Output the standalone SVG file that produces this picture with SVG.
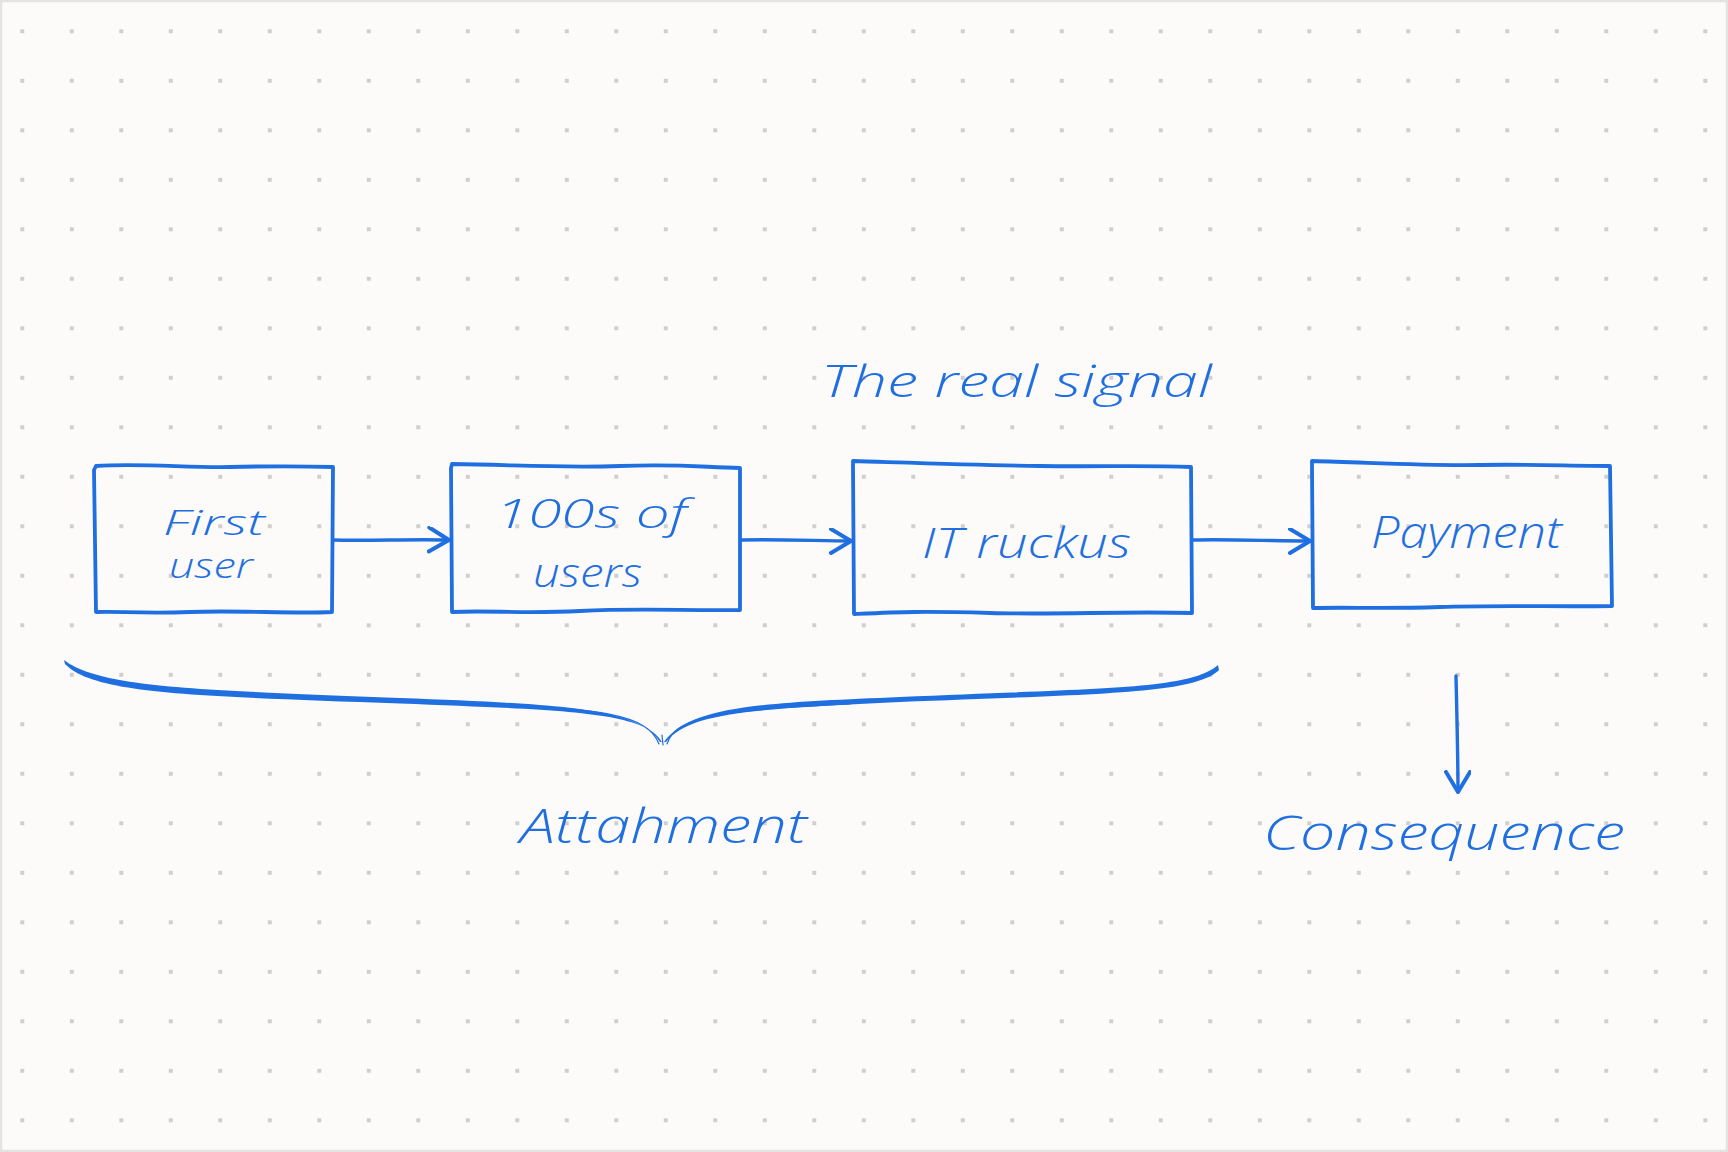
<svg xmlns="http://www.w3.org/2000/svg" width="1728" height="1152" viewBox="0 0 1728 1152">
  <defs>
    <pattern id="dots" patternUnits="userSpaceOnUse" x="20.3" y="29.3" width="49.5" height="49.5">
      <rect x="0" y="0" width="4" height="4" fill="#d0cfcd"/>
    </pattern>
    <marker id="arrow" markerUnits="userSpaceOnUse" markerWidth="30" markerHeight="30" refX="22" refY="13" orient="auto">
      <path d="M2,1 L22,13 L2,25" fill="none" stroke="#1f6fe0" stroke-width="4" stroke-linecap="round" stroke-linejoin="round"/>
    </marker>
    <style>
      .box { fill: none; stroke: #1f6fe0; stroke-width: 3.8; stroke-linecap: round; stroke-linejoin: round; }
      .conn { fill: none; stroke: #1f6fe0; stroke-width: 3.4; stroke-linecap: round; }
      .hand { fill: #1f6fe0; font-family: "Open Sans", "Liberation Sans", "DejaVu Sans", sans-serif; font-style: italic; font-weight: 300; }
      .brace { fill: #1f6fe0; stroke: none; }
      .thin { fill: none; stroke: #1f6fe0; stroke-width: 1.2; stroke-linecap: round; }
    </style>
  </defs>

  <rect x="0" y="0" width="1728" height="1152" fill="#fcfbfa"/>
  <rect x="0" y="0" width="1728" height="1152" fill="url(#dots)"/>
  <rect x="1" y="1" width="1726" height="1150" fill="none" stroke="#e4e3e1" stroke-width="2.5"/>

  <g id="node-first-user">
    <path class="box" d="M96,466 C140,463 190,468 230,467 S300,466 333,467 L332,612 C290,614 240,610 190,612 S120,611 96,612 L94,470 Z"/>
    <text class="hand" font-size="35" x="163" y="535" textLength="102" lengthAdjust="spacingAndGlyphs">First</text>
    <text class="hand" font-size="35" x="169" y="578" textLength="84" lengthAdjust="spacingAndGlyphs">user</text>
  </g>

  <g id="node-100s-of-users">
    <path class="box" d="M452,464 C520,465 560,468 620,466 S700,467 740,468 L740,610 C690,611 640,608 580,611 S490,610 452,612 L451,468 Z"/>
    <text class="hand" font-size="40" x="495" y="528" textLength="192" lengthAdjust="spacingAndGlyphs">100s of</text>
    <text class="hand" font-size="40" x="533" y="587" textLength="109" lengthAdjust="spacingAndGlyphs">users</text>
  </g>

  <g id="node-it-ruckus">
    <path class="box" d="M853,461 C920,463 980,465 1040,466 S1140,465 1191,467 L1192,613 C1120,611 1060,615 990,613 S900,612 854,614 L853,465 Z"/>
    <text class="hand" font-size="42" x="922" y="558" textLength="209" lengthAdjust="spacingAndGlyphs">IT ruckus</text>
  </g>

  <g id="node-payment">
    <path class="box" d="M1312,461 C1380,463 1430,466 1480,465 S1570,466 1610,466 L1612,606 C1560,607 1500,605 1440,607 S1350,607 1313,608 L1312,466 Z"/>
    <text class="hand" font-size="44" x="1371" y="548" textLength="191" lengthAdjust="spacingAndGlyphs">Payment</text>
  </g>

  <g id="label-real-signal">
    <text class="hand" font-size="44" x="821" y="397" textLength="391" lengthAdjust="spacingAndGlyphs">The real signal</text>
  </g>

  <g id="label-attahment">
    <text class="hand" font-size="48" x="520" y="843" textLength="287" lengthAdjust="spacingAndGlyphs">Attahment</text>
  </g>

  <g id="label-consequence">
    <text class="hand" font-size="48" x="1263" y="850" textLength="362" lengthAdjust="spacingAndGlyphs">Consequence</text>
  </g>

  <g id="brace">
    <path class="brace" d="M64,660 C100,688 200,690 400,698 C560,704 640,708 660,742 L662,742 C645,711 560,710 400,703.5 C200,696 95,695 65,664 Z"/>
    <path class="brace" d="M1218,665 C1190,690 1100,688 900,697 C760,703 690,706 664,742 L666,742 C690,711 760,709 900,702 C1100,694 1195,694 1219,670 Z"/>
    <path class="thin" d="M470,703 C600,708 648,714 659,744"/>
    <path class="thin" d="M850,704 C720,710 676,716 667,744"/>
    <path class="thin" d="M662,735 L663,745"/>
  </g>

  <g id="connectors">
    <path class="conn" d="M333,540 C370,541 410,539 449,540" marker-end="url(#arrow)"/>
    <path class="conn" d="M741,540 C780,539 820,541 851,541" marker-end="url(#arrow)"/>
    <path class="conn" d="M1193,540 C1230,539 1270,541 1310,541" marker-end="url(#arrow)"/>
    <path class="conn" d="M1456,676 C1457,720 1458,760 1458,792" marker-end="url(#arrow)"/>
  </g>
</svg>
